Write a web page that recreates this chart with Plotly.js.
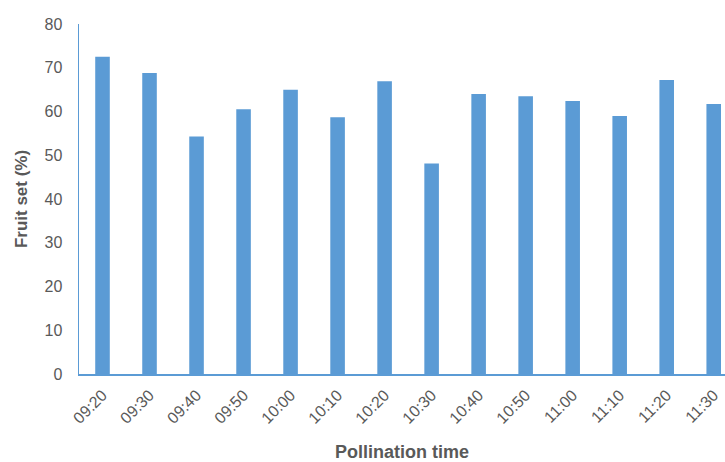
<!DOCTYPE html>
<html>
<head>
<meta charset="utf-8">
<script src="https://cdn.plot.ly/plotly-3.0.1.min.js"></script>
<style>html,body{margin:0;padding:0;background:#fff;}#chart{width:725px;height:462px;}</style>
</head>
<body>
<div id="chart"></div>
<script>
const categories = ["09:20","09:30","09:40","09:50","10:00","10:10","10:20","10:30","10:40","10:50","11:00","11:10","11:20","11:30"];
const fruitSet = [72.5, 68.8, 54.3, 60.5, 65.0, 58.7, 66.9, 48.1, 64.0, 63.5, 62.4, 59.0, 67.2, 61.7];
const yTicks = [0,10,20,30,40,50,60,70,80];

const trace = {
  type: 'bar',
  x: categories,
  y: fruitSet,
  marker: {color: '#5B9BD5'},
  hoverinfo: 'x+y'
};

const layout = {
  width: 725, height: 462,
  margin: {l: 79, r: 0, t: 24, b: 88},
  paper_bgcolor: '#fff', plot_bgcolor: '#fff',
  bargap: 0.69,
  showlegend: false,
  font: {family: 'Liberation Sans, Arial, sans-serif', color: '#595959'},
  xaxis: {
    type: 'category',
    range: [-0.5, 13.24],
    tickangle: -45,
    tickfont: {size: 16, color: '#595959'},
    showline: true, linecolor: '#5B9BD5', linewidth: 1.5,
    showgrid: false, zeroline: false,
    ticks: '',
    ticklabelstandoff: 4,
    automargin: false,
    title: {text: 'Pollination time', font: {size: 18, color: '#595959', family: 'Liberation Sans, Arial, sans-serif', weight: 'bold'}, standoff: 24}
  },
  yaxis: {
    range: [0, 80],
    tickvals: yTicks,
    ticktext: yTicks.map(String),
    tickfont: {size: 16, color: '#595959'},
    showline: true, linecolor: '#5B9BD5', linewidth: 1.5,
    showgrid: false, zeroline: false,
    ticks: '',
    ticklabelstandoff: 12,
    automargin: false,
    title: {text: 'Fruit set (%)', font: {size: 17, color: '#595959', family: 'Liberation Sans, Arial, sans-serif', weight: 'bold'}, standoff: 12}
  }
};

Plotly.newPlot('chart', [trace], layout, {displayModeBar: false, staticPlot: true});
</script>
</body>
</html>
